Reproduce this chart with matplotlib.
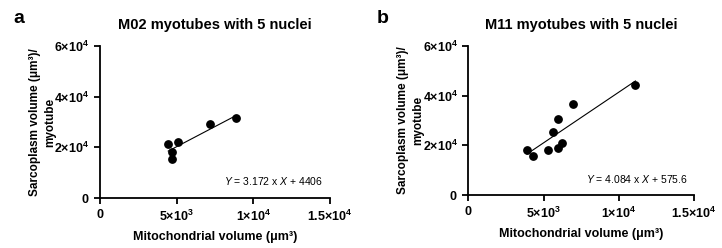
import numpy as np
import matplotlib
matplotlib.use("Agg")
import matplotlib.pyplot as plt

plt.rcParams["font.family"] = ["Liberation Sans", "DejaVu Sans"]
plt.rcParams["mathtext.fontset"] = "custom"
plt.rcParams["mathtext.rm"] = "Liberation Sans"
plt.rcParams["mathtext.it"] = "Liberation Sans:italic"
plt.rcParams["mathtext.bf"] = "Liberation Sans:bold"

# M02 data (mitochondrial volume, sarcoplasm volume)
m02_mito = [4450, 4670, 4670, 5110, 7150, 8850]
m02_sarc = [21400, 18300, 15300, 22300, 29100, 31500]
m02_slope, m02_icpt = 3.172, 4406

# M11 data
m11_mito = [3900, 4310, 5310, 5640, 5950, 5950, 6220, 6950, 11100]
m11_sarc = [18100, 15600, 18000, 25200, 30700, 18900, 20900, 36500, 44200]
m11_slope, m11_icpt = 4.084, 575.6

xticks = [0, 5000, 10000, 15000]
xticklabels = [r"$\mathbf{0}$", r"$\mathbf{5{\times}10^3}$", r"$\mathbf{1{\times}10^4}$", r"$\mathbf{1.5{\times}10^4}$"]
yticks = [0, 20000, 40000, 60000]
yticklabels = [r"$\mathbf{0}$", r"$\mathbf{2{\times}10^4}$", r"$\mathbf{4{\times}10^4}$", r"$\mathbf{6{\times}10^4}$"]

panels = [
    ("a", "M02 myotubes with 5 nuclei", m02_mito, m02_sarc, m02_slope, m02_icpt, "4406",
     [0.1385, 0.2016, 0.3186, 0.613], 0.018),
    ("b", "M11 myotubes with 5 nuclei", m11_mito, m11_sarc, m11_slope, m11_icpt, "575.6",
     [0.6485, 0.2137, 0.313, 0.601], 0.522),
]

fig = plt.figure(figsize=(7.22, 2.48), dpi=100)

for letter, title, x, y, slope, icpt, icpt_txt, rect, lx in panels:
    ax = fig.add_axes(rect)
    x = np.array(x)
    y = np.array(y)
    ax.scatter(x, y, s=28, color="black", zorder=3)
    xl = np.array([x.min(), x.max()])
    ax.plot(xl, slope * xl + icpt, color="black", lw=0.8)
    ax.set_xlim(0, 15000)
    ax.set_ylim(0, 60000)
    ax.set_xticks(xticks)
    ax.set_xticklabels(xticklabels)
    ax.set_yticks(yticks)
    ax.set_yticklabels(yticklabels)
    for s in ["top", "right"]:
        ax.spines[s].set_visible(False)
    for s in ["left", "bottom"]:
        ax.spines[s].set_linewidth(1.3)
    ax.tick_params(width=1.3, length=4, labelsize=9)
    ax.set_title(title, fontsize=10.5, fontweight="bold", pad=12)
    ax.set_xlabel("Mitochondrial volume (μm³)", fontsize=9, fontweight="bold", labelpad=5)
    ax.set_ylabel("Sarcoplasm volume (μm³)/\nmyotube", fontsize=8.5, fontweight="bold",
                  labelpad=-1, linespacing=1.3)
    ax.text(0.97, 0.07, r"$\it{Y}$ = " + f"{slope:.3f}" + r" x $\it{X}$ + " + icpt_txt,
            transform=ax.transAxes, ha="right", va="bottom", fontsize=7.5)
    fig.text(lx, 0.96, letter, fontsize=14, fontweight="bold", ha="left", va="top")

fig.savefig("out.png", dpi=100)
